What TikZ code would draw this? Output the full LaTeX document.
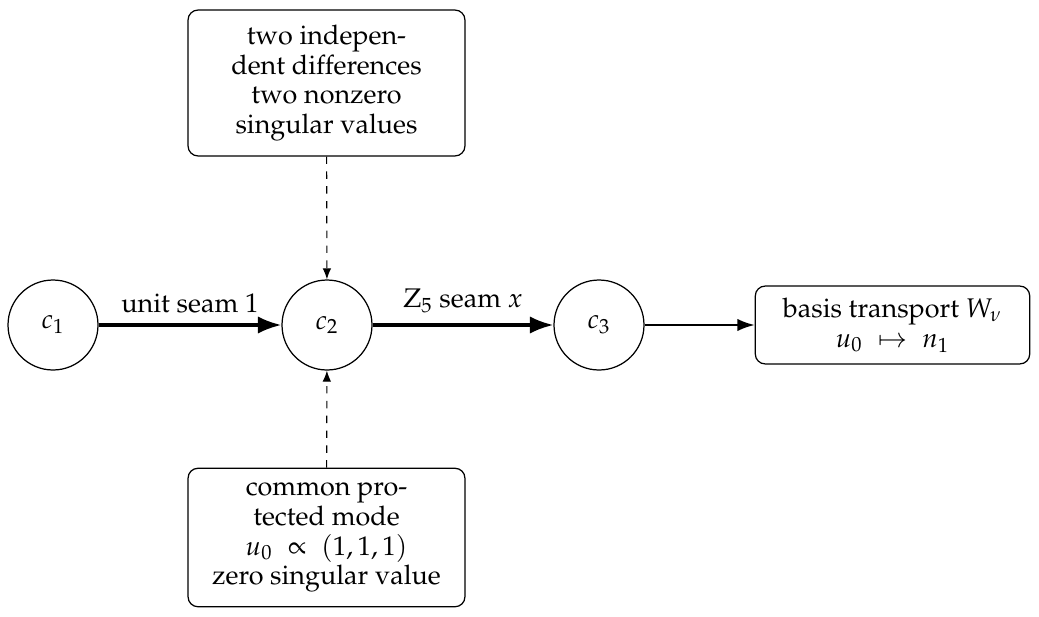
\documentclass[tikz,border=0pt]{standalone}
\usepackage[T1]{fontenc}
\usepackage{mathpazo}
\usetikzlibrary{arrows.meta}
\tikzset{
  state/.style={circle,draw,line width=0.5pt,minimum size=36.4pt,inner sep=0pt},
  infobox/.style={draw,rounded corners=4pt,line width=0.5pt,align=center,inner sep=3pt},
  mainarrow/.style={line width=1.3pt,-{Latex[length=9.5pt,width=7pt]}},
  outarrow/.style={line width=0.8pt,-{Latex[length=7pt,width=5pt]}},
  hintarrow/.style={line width=0.45pt,dashed,-{Latex[length=4.5pt,width=3.5pt]}}
}
\begin{document}
\begin{tikzpicture}[x=0.4045pt,y=-0.4045pt,font=\fontsize{10.9}{12}\selectfont]
\useasboundingbox (0,0) rectangle (1039,617);
\node[state] (c1) at (53,325) {$c_1$};
\node[state] (c2) at (327,325) {$c_2$};
\node[state] (c3) at (599,325) {$c_3$};
\node[infobox,minimum width=111pt,minimum height=31.5pt] (out) at (892.5,325) {basis transport $W_\nu$\\ $u_0\;\mapsto\;n_1$};
\node[infobox,minimum width=112pt,minimum height=59pt] (top) at (326.5,83) {two indepen-\\dent differences\\two nonzero\\singular values};
\node[infobox,minimum width=112pt,minimum height=56pt] (bot) at (326.5,537.5) {common pro-\\tected mode\\$u_0\;\propto\;(1,1,1)$\\zero singular value};
\draw[mainarrow] (c1) -- node[above=1pt] {unit seam 1} (c2);
\draw[mainarrow] (c2) -- node[above=1pt] {$\mathrm{Z}_5$ seam $x$} (c3);
\draw[outarrow] (c3) -- (out);
\draw[hintarrow] (top) -- (c2);
\draw[hintarrow] (bot) -- (c2);
\end{tikzpicture}
\end{document}
